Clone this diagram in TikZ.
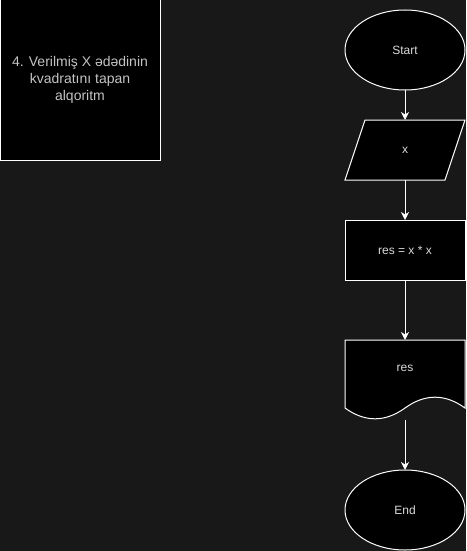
\documentclass[tikz,border=0pt]{standalone}
\usepackage{fontspec}
\setmainfont{Liberation Sans}
\usetikzlibrary{shapes.geometric,arrows.meta,calc}
\definecolor{bgc}{HTML}{181818}
\definecolor{txt}{HTML}{DADADA}
\definecolor{ttl}{HTML}{C4C4C4}
\begin{document}
\begin{tikzpicture}[x=1pt,y=-1pt,
  every node/.style={inner sep=0pt,outer sep=0pt},
  shapeline/.style={draw=white,line width=1pt,fill=black},
  terminal/.style={shapeline,ellipse,minimum width=120pt,minimum height=80pt,
    text=txt,font=\fontsize{12}{14.4}\selectfont},
  plainbox/.style={minimum width=120pt,minimum height=60pt,
    text=txt,font=\fontsize{12}{14.4}\selectfont},
  procbox/.style={plainbox,shapeline},
  flow/.style={draw=white,line width=1pt,-{Stealth[length=8pt,width=8pt,inset=2.5pt]}}]
\fill[bgc] (0,0) rectangle (466,551);
\useasboundingbox (0,0) rectangle (466,551);
% title box
\node[shapeline,minimum width=160pt,minimum height=160pt,text=ttl,
  align=center,font=\fontsize{14}{16.8}\selectfont] (title) at (80,80)
  {4. Verilmiş X ədədinin\\kvadratını tapan\\alqoritm};
% start
\node[terminal] (start) at (405,50) {Start};
% input parallelogram
\node[plainbox] (in) at (405,150) {};
\draw[shapeline] ($(in.north west)+(20,0)$) -- (in.north east)
  -- ($(in.south east)+(-20,0)$) -- (in.south west) -- cycle;
\node[text=txt,font=\fontsize{12}{14.4}\selectfont] (inlabel) at (in.center) {x};
% process
\node[procbox] (proc) at (405,250) {res = x * x};
% document output
\node[minimum width=120pt,minimum height=80pt] (out) at (405,380) {};
\draw[shapeline] (out.north west) -- (out.north east) -- (465,408)
  .. controls (445,393.6) and (425,393.6) .. (405,408)
  .. controls (385,422.4) and (365,422.4) .. (345,408) -- cycle;
\node[text=txt,font=\fontsize{12}{14.4}\selectfont] (outlabel) at (405,368) {res};
% end
\node[terminal] (end) at (405,510) {End};
% connectors
\draw[flow] (start.south) -- (in.north);
\draw[flow] (in.south) -- (proc.north);
\draw[flow] (proc.south) -- (out.north);
\draw[flow] (out.south) -- (end.north);
\end{tikzpicture}
\end{document}
